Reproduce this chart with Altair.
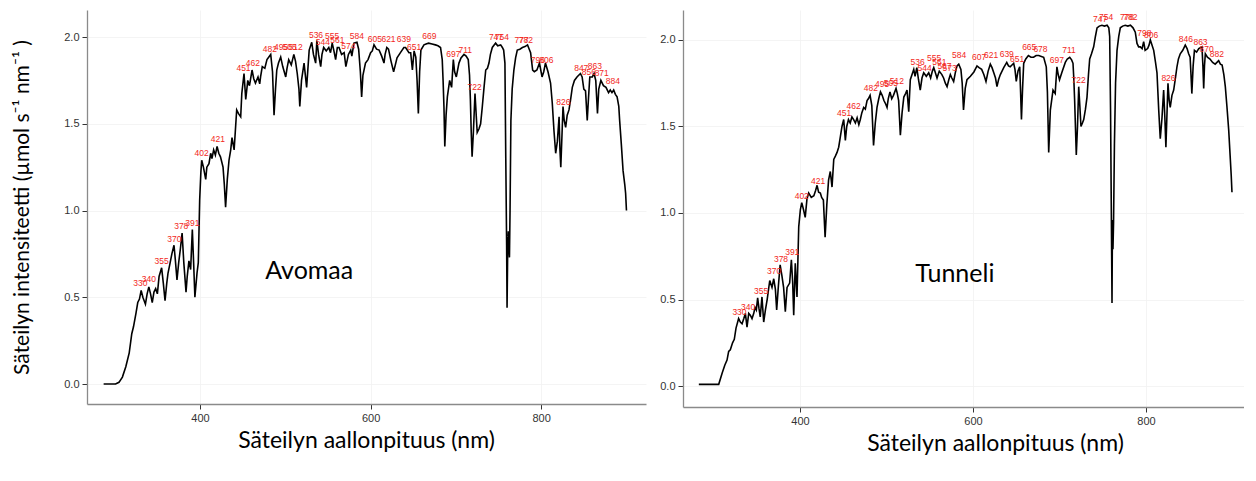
import altair as alt
import pandas as pd

# ---------------- data: Avomaa (open field) ----------------
avomaa_wl = [287, 301, 305, 309, 313, 317, 320, 322, 325, 327, 329, 331, 333, 336, 338, 340, 342, 344, 346, 348,
             350, 352, 355, 357, 359, 361, 362.5, 365, 367, 369.5, 371, 373, 375, 377, 379, 381, 383.6, 385, 387, 389,
             391, 392.5, 394, 396.5, 398, 399.6, 401, 402, 404, 406.7, 408, 410.5, 412.5, 414, 416, 418, 420, 422, 424,
             427, 428.5, 430, 432, 434, 436, 437.5, 440, 443, 445, 447.7, 449, 451.6, 453.6, 456, 458, 461, 463, 465,
             468, 470, 471, 473, 476, 478.5, 482.9, 485, 486.8, 488.5, 490, 492, 494.6, 497, 500.5, 502, 504, 507, 510,
             512, 514, 516, 517, 519, 522, 525, 528, 531, 533, 535.6, 537, 539, 541.5, 543, 545, 548, 551, 553, 555,
             557, 559, 561, 563, 566, 569, 571, 574, 576.7, 578, 580.5, 584, 586, 588, 589.5, 591, 594, 597, 600, 602,
             604, 607, 610, 613, 615.7, 617, 619, 621, 624, 627, 629, 631, 635, 639, 641, 645, 647, 649, 651, 653,
             654.5, 656, 657.5, 659, 662.6, 665, 668, 672, 676, 679, 682, 684, 685, 686, 687, 688.5, 690, 692.7, 695,
             697, 698.5, 700.5, 703.6, 706, 709.5, 712, 714.5, 716, 717, 718, 719, 720.5, 722.4, 723.5, 725, 727, 729,
             731, 733, 735, 737, 738.8, 740.5, 742.7, 746.6, 749, 752.5, 754.5, 756, 757.5, 758.5, 759.5, 760, 760.8,
             761.5, 762, 762.8, 763.5, 764.5, 766, 768, 770, 772, 775, 778, 781, 784, 786, 787.6, 790, 792, 795, 798,
             801, 803, 805, 808, 811, 813, 815, 817, 819, 821, 822, 823, 824.5, 825.6, 827, 828.7, 830.5, 832.6, 834.5,
             836.5, 839, 842, 846, 848, 850, 852, 854, 855.5, 857, 860, 862, 864, 866, 867.5, 870, 873, 876, 879, 881,
             883, 885, 887, 889, 891, 892, 894, 896, 898, 899, 900]
avomaa_val = [0.0, 0.0, 0.01, 0.04, 0.10, 0.18, 0.29, 0.33, 0.41, 0.47, 0.49, 0.54, 0.50, 0.46, 0.52, 0.56, 0.52, 0.47,
              0.53, 0.55, 0.52, 0.62, 0.67, 0.58, 0.48, 0.58, 0.64, 0.70, 0.75, 0.80, 0.72, 0.60, 0.70, 0.78, 0.87,
              0.70, 0.53, 0.62, 0.71, 0.66, 0.89, 0.70, 0.50, 0.64, 0.70, 1.06, 1.22, 1.29, 1.25, 1.18, 1.25, 1.27,
              1.33, 1.30, 1.35, 1.32, 1.37, 1.33, 1.31, 1.25, 1.15, 1.02, 1.18, 1.29, 1.35, 1.42, 1.35, 1.58, 1.56,
              1.54, 1.675, 1.79, 1.64, 1.75, 1.72, 1.81, 1.76, 1.735, 1.77, 1.73, 1.77, 1.83, 1.82, 1.87, 1.90, 1.80,
              1.55, 1.70, 1.81, 1.85, 1.885, 1.83, 1.77, 1.82, 1.87, 1.84, 1.90, 1.86, 1.79, 1.70, 1.60, 1.75, 1.85,
              1.71, 1.925, 1.97, 1.90, 1.85, 1.98, 1.90, 1.83, 1.90, 1.94, 1.92, 1.94, 1.91, 1.965, 1.92, 1.87, 1.94,
              1.94, 1.90, 1.91, 1.83, 1.90, 1.925, 1.89, 1.965, 1.97, 1.93, 1.80, 1.655, 1.78, 1.85, 1.87, 1.91, 1.92,
              1.955, 1.93, 1.925, 1.89, 1.85, 1.90, 1.94, 1.93, 1.86, 1.80, 1.84, 1.88, 1.91, 1.94, 1.94, 1.91, 1.91,
              1.81, 1.92, 1.885, 1.75, 1.56, 1.80, 1.925, 1.955, 1.96, 1.965, 1.96, 1.955, 1.95, 1.94, 1.87, 1.75,
              1.60, 1.37, 1.55, 1.655, 1.75, 1.71, 1.87, 1.80, 1.77, 1.85, 1.88, 1.90, 1.89, 1.87, 1.78, 1.64, 1.45,
              1.31, 1.45, 1.675, 1.58, 1.45, 1.47, 1.50, 1.60, 1.71, 1.81, 1.82, 1.85, 1.90, 1.94, 1.965, 1.95, 1.955,
              1.94, 1.925, 1.85, 1.30, 0.80, 0.44, 0.80, 0.88, 0.80, 0.73, 1.00, 1.52, 1.70, 1.81, 1.88, 1.925, 1.93,
              1.94, 1.945, 1.955, 1.93, 1.91, 1.81, 1.80, 1.81, 1.85, 1.77, 1.80, 1.85, 1.80, 1.735, 1.62, 1.46, 1.33,
              1.40, 1.54, 1.35, 1.25, 1.45, 1.60, 1.52, 1.48, 1.55, 1.58, 1.64, 1.71, 1.75, 1.77, 1.79, 1.77, 1.70,
              1.69, 1.52, 1.65, 1.77, 1.77, 1.79, 1.75, 1.56, 1.70, 1.75, 1.72, 1.71, 1.68, 1.695, 1.68, 1.695, 1.67,
              1.655, 1.60, 1.52, 1.38, 1.23, 1.15, 1.10, 1.00]
avomaa_peak_wl = [330, 340, 355, 370, 378, 391, 402, 421, 451, 462, 482, 495, 505, 512, 536, 544, 555, 561, 574, 584,
                  605, 621, 639, 651, 669, 697, 711, 722, 747, 754, 777, 782, 796, 806, 826, 847, 856, 863, 871, 884]
avomaa_peak_val = [0.54, 0.565, 0.67, 0.795, 0.87, 0.89, 1.29, 1.37, 1.78, 1.81, 1.89, 1.90, 1.90, 1.90, 1.97, 1.93,
                   1.965, 1.94, 1.91, 1.965, 1.95, 1.95, 1.95, 1.90, 1.965, 1.86, 1.885, 1.67, 1.96, 1.96, 1.94, 1.94,
                   1.83, 1.83, 1.585, 1.78, 1.76, 1.79, 1.75, 1.705]

# ---------------- data: Tunneli (tunnel) ----------------
tunneli_wl = [283, 306, 310, 313, 315.6, 317.5, 319.4, 322, 324, 326, 329, 331, 333, 335, 336.8, 338.7, 340.7, 342.5,
              344.5, 346.5, 348, 349.5, 351, 352.5, 354, 356, 358, 360, 362, 365, 367.6, 369.6, 371.5, 373, 375, 377,
              379, 381, 383, 385, 388, 390, 391.5, 392.7, 394.5, 396.5, 398.5, 400.4, 402, 404, 406, 408, 410, 413,
              416, 418, 419.7, 421.5, 423.5, 425, 427, 429, 431, 433, 435, 437, 439, 441, 442.8, 444.7, 446.6, 448.5,
              450.5, 452.4, 454, 456, 458, 460, 462, 464, 466, 468, 469.7, 471.5, 473.6, 475.5, 477.5, 479, 481, 483,
              485, 487, 489, 491, 493, 495, 497, 499, 500.6, 502, 504, 506, 508, 511, 512.5, 514, 515, 516, 518, 520,
              522, 523.7, 525.7, 527.5, 529.5, 531.5, 533, 535, 537, 539, 541, 543, 546, 548.8, 551, 553, 554.6,
              556.5, 558.4, 561, 564, 566, 568, 570, 572, 573.8, 575.5, 577.6, 579.5, 581.5, 583.5, 586, 587.5, 589,
              591, 593, 597, 601, 604.6, 607, 610, 612.5, 615, 617.5, 620, 622, 624, 626, 627.7, 629.5, 631.6, 635.5,
              639, 641, 643, 647, 648.5, 650, 652, 654, 655, 656, 657.3, 658.6, 661, 664, 667, 670, 673, 676, 679,
              681.7, 684.7, 686, 687.5, 689.4, 692.5, 695, 697, 698.5, 700, 702.9, 706.7, 709, 711.8, 714, 715.6,
              716.5, 717.5, 719.4, 720.8, 722.2, 723.5, 724.8, 726.5, 728, 730, 731.8, 733.5, 734.9, 737, 739.5,
              741.5, 743.4, 746, 749, 752, 755, 757, 758, 759, 760, 760.7, 761.2, 761.8, 762.5, 763.5, 764.8, 766.5,
              768.5, 770.3, 773, 776, 779, 782, 785, 787.6, 789.6, 791.5, 793.4, 795.5, 797.3, 799, 801.9, 803.5, 805,
              807, 808.9, 811, 812.7, 814.7, 816.5, 818.5, 820.4, 821.8, 823, 825.4, 826.8, 828, 830, 832, 834, 835.8,
              837.5, 839.6, 842.5, 845.4, 847.5, 849.3, 851, 852, 853, 854.5, 856, 858.5, 861, 864.7, 865.8, 866.7,
              867.6, 868.6, 871, 874, 877, 880, 882, 884, 886, 888, 890, 891.7, 893.5, 895.6, 897.5, 898.5, 899.4]
tunneli_val = [0.01, 0.01, 0.075, 0.12, 0.15, 0.20, 0.21, 0.25, 0.27, 0.335, 0.39, 0.37, 0.36, 0.39, 0.42, 0.34, 0.42,
               0.41, 0.39, 0.42, 0.455, 0.44, 0.51, 0.45, 0.40, 0.515, 0.37, 0.44, 0.50, 0.61, 0.57, 0.62, 0.56, 0.44,
               0.58, 0.70, 0.64, 0.57, 0.43, 0.57, 0.595, 0.73, 0.60, 0.41, 0.71, 0.515, 0.92, 1.02, 1.06, 1.02,
               0.975, 1.08, 1.115, 1.09, 1.10, 1.13, 1.16, 1.12, 1.115, 1.09, 1.075, 0.86, 1.05, 1.19, 1.24, 1.15,
               1.31, 1.33, 1.35, 1.38, 1.44, 1.50, 1.54, 1.42, 1.50, 1.54, 1.52, 1.555, 1.54, 1.52, 1.55, 1.51, 1.54,
               1.58, 1.61, 1.60, 1.65, 1.66, 1.68, 1.62, 1.39, 1.52, 1.61, 1.66, 1.70, 1.68, 1.65, 1.63, 1.61, 1.66,
               1.70, 1.66, 1.68, 1.72, 1.69, 1.65, 1.55, 1.45, 1.58, 1.67, 1.69, 1.71, 1.585, 1.77, 1.80, 1.83, 1.79,
               1.84, 1.77, 1.71, 1.78, 1.81, 1.79, 1.81, 1.78, 1.82, 1.84, 1.81, 1.78, 1.82, 1.80, 1.78, 1.75, 1.73,
               1.77, 1.80, 1.78, 1.76, 1.81, 1.85, 1.86, 1.83, 1.75, 1.595, 1.72, 1.77, 1.79, 1.815, 1.85, 1.84, 1.83,
               1.80, 1.76, 1.82, 1.86, 1.84, 1.81, 1.78, 1.73, 1.77, 1.80, 1.84, 1.87, 1.85, 1.845, 1.865, 1.83, 1.76,
               1.82, 1.845, 1.70, 1.54, 1.72, 1.865, 1.89, 1.91, 1.90, 1.90, 1.91, 1.91, 1.905, 1.90, 1.845, 1.70,
               1.35, 1.595, 1.71, 1.69, 1.845, 1.80, 1.77, 1.815, 1.87, 1.89, 1.90, 1.885, 1.865, 1.78, 1.65, 1.335,
               1.50, 1.73, 1.62, 1.50, 1.52, 1.54, 1.60, 1.67, 1.80, 1.89, 1.92, 1.96, 2.02, 2.07, 2.08, 2.085, 2.08,
               2.085, 2.07, 2.02, 1.60, 0.95, 0.48, 0.96, 0.79, 0.95, 1.40, 1.75, 1.94, 2.02, 2.07, 2.08, 2.085, 2.08,
               2.085, 2.07, 2.045, 1.98, 1.96, 1.96, 1.95, 1.99, 1.94, 1.95, 1.97, 2.00, 1.97, 1.94, 1.87, 1.81, 1.595,
               1.43, 1.55, 1.71, 1.55, 1.38, 1.75, 1.65, 1.61, 1.68, 1.71, 1.78, 1.845, 1.89, 1.92, 1.94, 1.97, 1.95,
               1.92, 1.90, 1.80, 1.69, 1.85, 1.94, 1.93, 1.95, 1.96, 1.85, 1.72, 1.85, 1.92, 1.90, 1.89, 1.87, 1.86,
               1.87, 1.88, 1.86, 1.855, 1.80, 1.73, 1.62, 1.48, 1.31, 1.22, 1.12]
tunneli_peak_wl = [330, 340, 355, 370, 378, 391, 402, 421, 451, 462, 482, 495, 505, 512, 536, 544, 555, 561, 567, 573,
                   584, 607, 621, 639, 651, 665, 678, 697, 711, 722, 747, 754, 778, 782, 798, 806, 826, 846, 863, 870,
                   882]
tunneli_peak_val = [0.387, 0.416, 0.509, 0.624, 0.694, 0.734, 1.06, 1.145, 1.54, 1.58, 1.68, 1.705, 1.71, 1.72, 1.83,
                    1.80, 1.855, 1.83, 1.81, 1.80, 1.87, 1.86, 1.87, 1.88, 1.85, 1.92, 1.91, 1.845, 1.90, 1.73, 2.08,
                    2.09, 2.09, 2.09, 2.00, 1.99, 1.74, 1.965, 1.95, 1.91, 1.88]

panel_names = ["Avomaa", "Tunneli"]
name_wl = [528, 579]
name_val = [0.65, 0.65]

x_ticks = [400, 600, 800]
y_ticks = [0.0, 0.5, 1.0, 1.5, 2.0]

X_TITLE = "Säteilyn aallonpituus (nm)"
Y_TITLE = "Säteilyn intensiteetti (µmol s⁻¹ nm⁻¹ )"


def panel(wl, val, pwl, pval, name, nwl, nval, xdom, ydom, w, h, ytitle, title_x):
    curve = pd.DataFrame({"wl": wl, "val": val})
    peaks = pd.DataFrame({"wl": pwl, "val": pval, "lab": [str(p) for p in pwl]})
    ann = pd.DataFrame({"wl": [nwl], "val": [nval], "name": [name]})

    x = alt.X("wl:Q", scale=alt.Scale(domain=xdom, nice=False, zero=False),
              axis=alt.Axis(values=x_ticks, format="d", title=X_TITLE, titleX=title_x,
                            titleAlign="center", titlePadding=6, labelPadding=3, titleFontSize=23))
    yaxis = dict(values=y_ticks, format=".1f", labelPadding=3, titleFontSize=21)
    if ytitle:
        yaxis.update(title=Y_TITLE, titlePadding=31)
    else:
        yaxis.update(title=None)
    y = alt.Y("val:Q", scale=alt.Scale(domain=ydom, nice=False, zero=False), axis=alt.Axis(**yaxis))

    line = alt.Chart(curve).mark_line(color="black", strokeWidth=1.6, interpolate="linear").encode(
        x=x, y=y, order="wl:Q")
    labels = alt.Chart(peaks).mark_text(color="#f2281c", font="Liberation Sans", fontSize=8.5,
                                        baseline="bottom", dy=-2).encode(x=x, y=y, text="lab:N")
    title = alt.Chart(ann).mark_text(font="Lato", fontSize=25, color="black", align="center",
                                     baseline="middle").encode(x=x, y=y, text="name:N")
    return alt.layer(line, labels, title).properties(width=w, height=h)


left = panel(avomaa_wl, avomaa_val, avomaa_peak_wl, avomaa_peak_val, panel_names[0], name_wl[0], name_val[0],
             [267.5, 922.9], [-0.115, 2.156], 559, 394, True, 279)
right = panel(tunneli_wl, tunneli_val, tunneli_peak_wl, tunneli_peak_val, panel_names[1], name_wl[1], name_val[1],
              [264.7, 913.3], [-0.121, 2.173], 561, 397, False, 312)

chart = alt.hconcat(left, right, spacing=13).properties(
    padding={"left": 3, "top": 2, "right": 0, "bottom": 0}
).configure_axis(
    labelFont="Liberation Sans", labelFontSize=11, labelColor="#333333",
    tickColor="#333333", tickSize=5, tickWidth=1,
    domainColor="#8a8a8a", domainWidth=1.3,
    grid=True, gridColor="#f1f1f1", gridWidth=0.8,
    titleFont="Lato", titleFontWeight="normal", titleColor="black"
).configure_view(stroke=None)

chart.save("out.html", embed_options={"renderer": "svg", "actions": False})
